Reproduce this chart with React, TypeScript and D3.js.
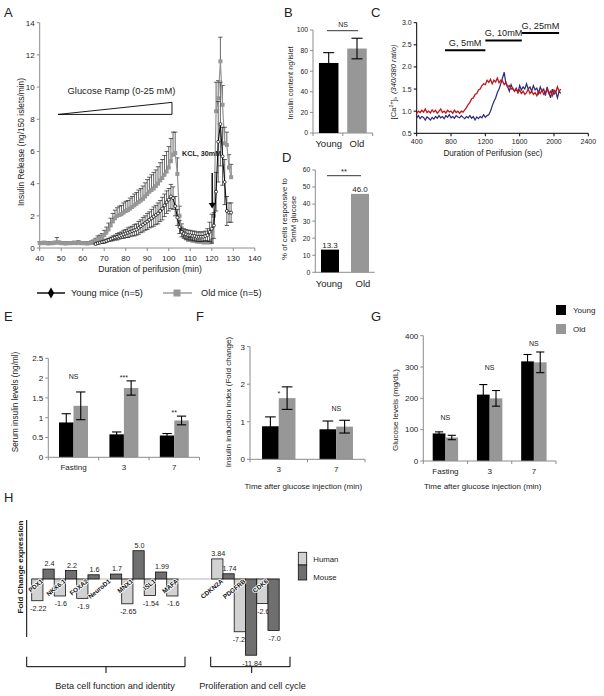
import React from 'react';
import * as d3 from 'd3';

const FONT = '"Liberation Sans", Arial, Helvetica, sans-serif';
const AXIS = '#8c8c8c';
const TXT = '#222';
const OLD = '#979797';
const YOUNG = '#000';
const ERR = '#222';

// ---------- Panel A : perifusion ----------
const aXTicks = [40, 50, 60, 70, 80, 90, 100, 110, 120, 130, 140];
const aYTicks = [0, 2, 4, 6, 8, 10, 12, 14];
const aOldStart = 40;
const aOldValues = [
  0.3, 0.3, 0.32, 0.3, 0.28, 0.3, 0.3, 0.32, 0.35, 0.33, 0.3, 0.3, 0.28, 0.3, 0.3, 0.3, 0.32, 0.3, 0.33, 0.3, 0.3, 0.3, 0.28, 0.3, 0.32, 0.35,
  0.45, 0.55, 0.6, 0.65, 0.8, 0.95, 1.15, 1.4, 1.65, 1.85, 2.0, 2.05, 2.1, 2.2, 2.3, 2.35, 2.45, 2.55, 2.65, 2.75,
  2.85, 2.95, 3.05, 3.2, 3.35, 3.5, 3.6, 3.7, 3.85, 4.0, 4.2, 4.35, 4.55, 4.75, 5.0, 5.4, 5.8, 5.9,
  4.6, 2.0, 1.1, 0.75, 0.6, 0.5, 0.5, 0.45, 0.45, 0.4, 0.4, 0.38, 0.35, 0.35, 0.35, 0.35, 0.4, 2.0, 8.5, 9.3, 11.6, 8.9, 6.5, 6.4, 5.0, 4.4,
];
const aOldErr = [
  0.1, 0.08, 0.1, 0.08, 0.1, 0.1, 0.1, 0.1, 0.3, 0.1, 0.08, 0.1, 0.1, 0.08, 0.1, 0.1, 0.1, 0.1, 0.12, 0.1, 0.1, 0.1, 0.1, 0.1, 0.12, 0.15,
  0.15, 0.2, 0.2, 0.25, 0.3, 0.35, 0.4, 0.45, 0.5, 0.5, 0.5, 0.55, 0.55, 0.6, 0.6, 0.6, 0.65, 0.65, 0.7, 0.7,
  0.75, 0.75, 0.8, 0.85, 0.9, 0.9, 0.95, 1.0, 1.0, 1.05, 1.1, 1.15, 1.2, 1.25, 1.3, 1.4, 1.4, 1.3,
  1.0, 0.6, 0.4, 0.3, 0.2, 0.15, 0.15, 0.1, 0.1, 0.1, 0.1, 0.1, 0.1, 0.1, 0.1, 0.1, 0.15, 0.8, 1.8, 1.1, 1.5, 1.2, 1.0, 0.8, 0.8, 0.8,
];
const aYoungStart = 66;
const aYoungValues = [
  0.25, 0.3, 0.33, 0.37, 0.4, 0.45, 0.5, 0.55, 0.6, 0.65, 0.7, 0.75, 0.8, 0.85, 0.9, 0.95, 1.0, 1.05, 1.1, 1.15,
  1.25, 1.35, 1.45, 1.55, 1.65, 1.75, 1.85, 1.95, 2.05, 2.15, 2.3, 2.45, 2.65, 2.85, 3.0, 3.2, 3.1, 2.6,
  1.9, 1.3, 1.0, 0.9, 0.85, 0.8, 0.8, 0.75, 0.75, 0.7, 0.7, 0.7, 0.7, 0.75, 0.8, 1.0, 1.2, 1.4, 3.5, 6.6, 7.7, 5.7, 4.1, 2.3, 2.2, 2.2,
];
const aYoungErr = [
  0.05, 0.05, 0.05, 0.08, 0.1, 0.1, 0.1, 0.12, 0.15, 0.15, 0.2, 0.2, 0.2, 0.25, 0.25, 0.3, 0.3, 0.3, 0.35, 0.35,
  0.4, 0.4, 0.45, 0.45, 0.5, 0.5, 0.55, 0.6, 0.6, 0.65, 0.65, 0.7, 0.7, 0.7, 0.7, 0.75, 0.7, 0.6,
  0.5, 0.4, 0.3, 0.3, 0.3, 0.3, 0.3, 0.3, 0.3, 0.3, 0.3, 0.3, 0.3, 0.3, 0.4, 0.6, 0.9, 0.8, 1.2, 2.5, 2.6, 1.8, 1.4, 0.9, 0.6, 0.6,
];

// ---------- Panel B ----------
const bCats = ['Young', 'Old'];
const bValues = [68, 82];
const bErr = [10, 10];
const bYTicks = [0, 20, 40, 60, 80, 100];

// ---------- Panel C ----------
const cStart = 400;
const cStep = 20;
const cRed = [
  0.95, 1.0, 0.97, 1.02, 0.98, 1.05, 0.97, 1.0, 0.96, 1.03,
  0.98, 1.02, 0.95, 1.0, 1.05, 0.97, 1.0, 0.96, 1.02, 0.98,
  1.0, 0.95, 1.02, 0.97, 1.0, 0.95, 1.0, 0.98, 1.03, 1.08,
  1.15, 1.2, 1.28, 1.3, 1.38, 1.4, 1.48, 1.5, 1.58, 1.62,
  1.6, 1.7, 1.65, 1.72, 1.62, 1.7, 1.66, 1.75, 1.64, 1.7,
  1.68, 1.6, 1.65, 1.55, 1.58, 1.5, 1.52, 1.45, 1.5, 1.42,
  1.48, 1.4, 1.45, 1.38, 1.42, 1.5, 1.4, 1.45, 1.38, 1.42,
  1.35, 1.45, 1.4, 1.48, 1.38, 1.42, 1.5, 1.4, 1.45, 1.35,
  1.48, 1.42, 1.55, 1.45, 1.5,
];
const cBlue = [
  0.85, 0.9, 0.83, 0.88, 0.86, 0.8, 0.87, 0.84, 0.8, 0.86,
  0.82, 0.88, 0.84, 0.9, 0.85, 0.88, 0.83, 0.9, 0.86, 0.92,
  0.85, 0.88, 0.84, 0.9, 0.87, 0.85, 0.9, 0.86, 0.83, 0.88,
  0.85, 0.9, 0.84, 0.88, 0.8, 0.87, 0.83, 0.88, 0.85, 0.92,
  0.86, 0.9, 0.92, 1.0, 1.12, 1.22, 1.3, 1.42, 1.5, 1.62,
  1.75, 1.88, 1.62, 1.55, 1.45, 1.6, 1.5, 1.45, 1.52, 1.42,
  1.58, 1.48, 1.55, 1.5, 1.62, 1.5, 1.55, 1.45, 1.58, 1.48,
  1.52, 1.4, 1.55, 1.45, 1.5, 1.35, 1.55, 1.42, 1.3, 1.5,
  1.38, 1.45, 1.3, 1.45, 1.4,
];
const cXTicks = [400, 800, 1200, 1600, 2000, 2400];
const cYTicks = [0.5, 1.0, 1.5, 2.0, 2.5, 3.0];
const cPhases = [
  { label: 'G, 5mM', from: 730, to: 1200, level: 2.38 },
  { label: 'G, 10mM', from: 1200, to: 1625, level: 2.6 },
  { label: 'G, 25mM', from: 1625, to: 2060, level: 2.77 },
];

// ---------- Panel D ----------
const dCats = ['Young', 'Old'];
const dValues = [13.3, 46.0];
const dYTicks = [0, 10, 20, 30, 40, 50, 60];

// ---------- Panel E ----------
const eGroups = ['Fasting', '3', '7'];
const eYoung = [0.88, 0.58, 0.55];
const eYoungErr = [0.22, 0.06, 0.05];
const eOld = [1.3, 1.75, 0.93];
const eOldErr = [0.35, 0.18, 0.11];
const eSig = ['NS', '***', '**'];
const eSigAt = [1.98, 1.95, 1.06];
const eYTicks = [0, 0.5, 1, 1.5, 2, 2.5];

// ---------- Panel F ----------
const fGroups = ['3', '7'];
const fYoung = [0.88, 0.8];
const fYoungErr = [0.25, 0.22];
const fOld = [1.63, 0.87];
const fOldErr = [0.3, 0.17];
const fSig = ['*', 'NS'];
const fSigAt = [1.69, 1.29];
const fYTicks = [0, 1, 2, 3];

// ---------- Panel G ----------
const gGroups = ['Fasting', '3', '7'];
const gYoung = [88, 212, 318];
const gYoungErr = [5, 32, 22];
const gOld = [75, 200, 315];
const gOldErr = [7, 25, 33];
const gSig = ['NS', 'NS', 'NS'];
const gSigAt = [132, 289, 367];
const gYTicks = [0, 100, 200, 300, 400];

// ---------- Panel H ----------
const hGenes = ['PDX1', 'NKX6.1', 'FOXA2', 'NeuroD1', 'MNX1', 'ISL1', 'MAFA', 'gap', 'CDKN2A', 'PDGFRB', 'CDK6'];
const hHuman: (number | null)[] = [-2.22, -1.6, -1.9, null, -2.65, -1.54, -1.6, null, 3.84, -7.25, -2.6];
const hMouse: (number | null)[] = [2.4, 2.2, 1.6, 1.7, 5.0, 1.99, null, null, 1.74, -11.84, -7.0];

const fmtH = (v: number) => (Number.isInteger(v) ? v.toFixed(1) : String(v));

function YAxis({ scale, x, ticks, fmt, size = 7, color = AXIS }: any) {
  const [r0, r1] = scale.range();
  return (
    <g>
      <line x1={x} x2={x} y1={r0} y2={r1} stroke={color} strokeWidth={1} />
      {ticks.map((t: number) => (
        <g key={t}>
          <line x1={x - 3} x2={x} y1={scale(t)} y2={scale(t)} stroke={color} />
          <text x={x - 5} y={scale(t)} dy="0.35em" textAnchor="end" fontSize={size} fill={TXT}>
            {fmt ? fmt(t) : t}
          </text>
        </g>
      ))}
    </g>
  );
}

function PanelA() {
  const x = d3.scaleLinear().domain([40, 140]).range([39.7, 254.8]);
  const y = d3.scaleLinear().domain([0, 14]).range([248, 22.7]);
  const old = aOldValues.map((v, i) => ({ t: aOldStart + i, v, e: aOldErr[i] }));
  const young = aYoungValues.map((v, i) => ({ t: aYoungStart + i, v, e: aYoungErr[i] }));
  const line = d3.line<{ t: number; v: number }>().x((d) => x(d.t)).y((d) => y(d.v));
  const diamond = d3.symbol(d3.symbolDiamond, 34)() as string;
  return (
    <g>
      <text x={4} y={17} fontSize={13} fill={TXT}>A</text>
      <YAxis scale={y} x={x(40)} ticks={aYTicks} size={8} />
      <line x1={x(40)} x2={x(140)} y1={y(0)} y2={y(0)} stroke={AXIS} />
      {aXTicks.map((t) => (
        <g key={t}>
          <line x1={x(t)} x2={x(t)} y1={y(0)} y2={y(0) + 3} stroke={AXIS} />
          <text x={x(t)} y={y(0) + 13} textAnchor="middle" fontSize={8} fill={TXT}>{t}</text>
        </g>
      ))}
      <text x={150} y={272} textAnchor="middle" fontSize={8.6} fill={TXT}>Duration of perifusion (min)</text>
      <text transform="translate(21,142) rotate(-90)" textAnchor="middle" dominantBaseline="central" fontSize={8.4} fill={TXT}>
        Insulin Release (ng/150 islets/min)
      </text>
      <polygon
        points={`${x(48.5)},${y(8.3)} ${x(101.5)},${y(9.05)} ${x(101.5)},${y(8.3)}`}
        fill="none" stroke="#000" strokeWidth={0.9}
      />
      <text x={x(78)} y={y(9.55)} textAnchor="middle" fontSize={9.4} fill={TXT}>Glucose Ramp (0-25 mM)</text>
      <g stroke={ERR} strokeWidth={0.7}>
        {old.map((d) => (
          <g key={d.t}>
            <line x1={x(d.t)} x2={x(d.t)} y1={y(d.v)} y2={y(d.v + d.e)} />
            <line x1={x(d.t) - 2.2} x2={x(d.t) + 2.2} y1={y(d.v + d.e)} y2={y(d.v + d.e)} />
          </g>
        ))}
      </g>
      <path d={line(old) as string} fill="none" stroke={OLD} strokeWidth={1.2} />
      {old.map((d) => (
        <rect key={d.t} x={x(d.t) - 2} y={y(d.v) - 2} width={4} height={4} fill={OLD} />
      ))}
      <g stroke={ERR} strokeWidth={0.7}>
        {young.map((d) => (
          <g key={d.t}>
            <line x1={x(d.t)} x2={x(d.t)} y1={y(Math.max(0, d.v - d.e))} y2={y(d.v + d.e)} />
            <line x1={x(d.t) - 2.2} x2={x(d.t) + 2.2} y1={y(d.v + d.e)} y2={y(d.v + d.e)} />
            <line x1={x(d.t) - 2.2} x2={x(d.t) + 2.2} y1={y(Math.max(0, d.v - d.e))} y2={y(Math.max(0, d.v - d.e))} />
          </g>
        ))}
      </g>
      <path d={line(young) as string} fill="none" stroke={YOUNG} strokeWidth={1} />
      {young.map((d) => (
        <circle key={d.t} cx={x(d.t)} cy={y(d.v)} r={1.5} fill="#fff" stroke="#000" strokeWidth={0.7} />
      ))}
      <text x={x(106.2)} y={y(5.7)} fontSize={7.2} fontWeight="bold" fill={TXT}>KCL, 30mM</text>
      <line x1={x(120.2)} x2={x(120.2)} y1={y(4.66)} y2={y(2.75)} stroke="#000" strokeWidth={1.4} />
      <path d={`M${x(120.2) - 3.5},${y(2.8)} L${x(120.2) + 3.5},${y(2.8)} L${x(120.2)},${y(2.45)} Z`} fill="#000" />
      <line x1={37} x2={65} y1={293} y2={293} stroke="#000" strokeWidth={1.4} />
      <path d={diamond} transform="translate(51,293)" fill="#000" />
      <text x={71} y={296.3} fontSize={9.2} fill={TXT}>Young mice (n=5)</text>
      <line x1={163} x2={192} y1={293} y2={293} stroke={OLD} strokeWidth={1.4} />
      <rect x={173.5} y={289.5} width={7} height={7} fill={OLD} />
      <text x={201} y={296.3} fontSize={9.2} fill={TXT}>Old mice (n=5)</text>
    </g>
  );
}

function PanelB() {
  const y = d3.scaleLinear().domain([0, 100]).range([133, 30]);
  const x = d3.scaleBand().domain(bCats).range([313, 372.7]).paddingInner(0.31).paddingOuter(0.21);
  const bw = x.bandwidth();
  return (
    <g>
      <text x={284} y={17} fontSize={13} fill={TXT}>B</text>
      <YAxis scale={y} x={313} ticks={bYTicks} size={6.8} />
      <line x1={313} x2={372.7} y1={133} y2={133} stroke={AXIS} />
      {[313, 342.8, 372.7].map((t) => (
        <line key={t} x1={t} x2={t} y1={133} y2={136} stroke={AXIS} />
      ))}
      <text transform="translate(290,83) rotate(-90)" textAnchor="middle" dominantBaseline="central" fontSize={7.4} fill={TXT}>
        Insulin content ng/islet
      </text>
      {bCats.map((c, i) => {
        const cx = (x(c) as number) + bw / 2;
        return (
          <g key={c}>
            <rect x={x(c)} y={y(bValues[i])} width={bw} height={y(0) - y(bValues[i])} fill={i === 0 ? YOUNG : OLD} />
            <line x1={cx} x2={cx} y1={y(bValues[i] - bErr[i])} y2={y(bValues[i] + bErr[i])} stroke="#000" strokeWidth={1.1} />
            <line x1={cx - 5.5} x2={cx + 5.5} y1={y(bValues[i] + bErr[i])} y2={y(bValues[i] + bErr[i])} stroke="#000" strokeWidth={1.1} />
            <line x1={cx - 5.5} x2={cx + 5.5} y1={y(bValues[i] - bErr[i])} y2={y(bValues[i] - bErr[i])} stroke="#000" strokeWidth={1.1} />
            <text x={cx} y={147} textAnchor="middle" fontSize={9.5} fill={TXT}>{c}</text>
          </g>
        );
      })}
      <line x1={327} x2={358} y1={30.7} y2={30.7} stroke="#000" strokeWidth={0.8} />
      <text x={343} y={27} textAnchor="middle" fontSize={7} fill={TXT}>NS</text>
    </g>
  );
}

function PanelC() {
  const x = d3.scaleLinear().domain([400, 2400]).range([416.7, 588.3]);
  const y = d3.scaleLinear().domain([0.5, 3.0]).range([133.3, 22.7]);
  const line = d3.line<number>().x((_, i) => x(cStart + i * cStep)).y((d) => y(d));
  return (
    <g>
      <text x={371} y={17} fontSize={13} fill={TXT}>C</text>
      <YAxis scale={y} x={416.7} ticks={cYTicks} size={7} color="#000" fmt={(t: number) => t.toFixed(1)} />
      <line x1={416.7} x2={588.3} y1={133.3} y2={133.3} stroke="#000" />
      {cXTicks.map((t) => (
        <g key={t}>
          <line x1={x(t)} x2={x(t)} y1={133.3} y2={136.3} stroke="#000" />
          <text x={x(t)} y={143.5} textAnchor="middle" fontSize={7} fill={TXT}>{t}</text>
        </g>
      ))}
      <text x={493} y={156} textAnchor="middle" fontSize={8.2} fill={TXT}>Duration of Perifusion (sec)</text>
      <text transform="translate(393,82) rotate(-90)" textAnchor="middle" dominantBaseline="central" fontSize={7.6} fill={TXT}>
        [Ca<tspan dy={-2.5} fontSize={5.3}>2+</tspan>
        <tspan dy={2.5}>]</tspan>
        <tspan dy={1.8} fontSize={5.3}>i</tspan>
        <tspan dy={-1.8} fontStyle="italic">, (340/380 ratio)</tspan>
      </text>
      <path d={line(cBlue) as string} fill="none" stroke="#26287a" strokeWidth={1.2} />
      <path d={line(cRed) as string} fill="none" stroke="#c0161b" strokeWidth={1.3} />
      {cPhases.map((p) => (
        <g key={p.label}>
          <line x1={x(p.from)} x2={x(p.to)} y1={y(p.level)} y2={y(p.level)} stroke="#000" strokeWidth={2} />
          <text x={(x(p.from) + x(p.to)) / 2} y={y(p.level) - 4} textAnchor="middle" fontSize={9.2} fill={TXT}>{p.label}</text>
        </g>
      ))}
    </g>
  );
}

function PanelD() {
  const y = d3.scaleLinear().domain([0, 60]).range([272.3, 170]);
  const x = d3.scaleBand().domain(dCats).range([315.3, 374.7]).paddingInner(0.4).paddingOuter(0.19);
  const bw = x.bandwidth();
  return (
    <g>
      <text x={282} y={162} fontSize={13} fill={TXT}>D</text>
      <YAxis scale={y} x={315.3} ticks={dYTicks} size={6.8} />
      <line x1={315.3} x2={374.7} y1={272.3} y2={272.3} stroke={AXIS} />
      <text transform="translate(288,219) rotate(-90)" textAnchor="middle" fontSize={7.8} fill={TXT}>
        <tspan x={0} dy={-1.5}>% of cells responsive to</tspan>
        <tspan x={0} dy={9}>5mM glucose</tspan>
      </text>
      {dCats.map((c, i) => {
        const cx = (x(c) as number) + bw / 2;
        return (
          <g key={c}>
            <rect x={x(c)} y={y(dValues[i])} width={bw} height={y(0) - y(dValues[i])} fill={i === 0 ? YOUNG : OLD} />
            <text x={cx} y={y(dValues[i]) - 2} textAnchor="middle" fontSize={8} fill={TXT}>{dValues[i].toFixed(1)}</text>
            <text x={cx + (i === 0 ? -1 : 3)} y={286.5} textAnchor="middle" fontSize={9.5} fill={TXT}>{c}</text>
          </g>
        );
      })}
      <line x1={327} x2={361} y1={175.7} y2={175.7} stroke="#000" strokeWidth={0.8} />
      <text x={344} y={174} textAnchor="middle" fontSize={7.5} fill={TXT}>**</text>
    </g>
  );
}

function Grouped({ groups, young, youngErr, old, oldErr, sig, sigAt, x0r, y, outer }: any) {
  const x0 = d3.scaleBand().domain(groups).range(x0r).padding(0);
  const x1 = d3.scaleBand().domain(['Young', 'Old']).range([0, x0.bandwidth()]).paddingInner(0).paddingOuter(outer);
  const bw = x1.bandwidth();
  const bars: any[] = [];
  groups.forEach((g: string, i: number) => {
    bars.push({ g, k: 'Young', v: young[i], e: youngErr[i], fill: YOUNG });
    bars.push({ g, k: 'Old', v: old[i], e: oldErr[i], fill: OLD });
  });
  const cap = bw * 0.32;
  return (
    <g>
      {bars.map((b) => {
        const bx = (x0(b.g) as number) + (x1(b.k) as number);
        const cx = bx + bw / 2;
        return (
          <g key={b.g + b.k}>
            <rect x={bx} y={y(b.v)} width={bw} height={y(0) - y(b.v)} fill={b.fill} />
            <g stroke="#000" strokeWidth={1.1}>
              <line x1={cx} x2={cx} y1={y(b.v - b.e)} y2={y(b.v + b.e)} />
              <line x1={cx - cap} x2={cx + cap} y1={y(b.v + b.e)} y2={y(b.v + b.e)} />
              <line x1={cx - cap} x2={cx + cap} y1={y(b.v - b.e)} y2={y(b.v - b.e)} />
            </g>
          </g>
        );
      })}
      {groups.map((g: string, i: number) => {
        const cx = (x0(g) as number) + x0.bandwidth() / 2;
        return (
          <g key={g}>
            <text x={cx} y={y(sigAt[i])} textAnchor="middle" fontSize={7} fill={TXT}>{sig[i]}</text>
            <text x={cx} y={y(0) + 13} textAnchor="middle" fontSize={8} fill={TXT}>{g}</text>
          </g>
        );
      })}
      <line x1={x0r[0]} x2={x0r[1]} y1={y(0)} y2={y(0)} stroke={AXIS} />
      {[...groups.map((g: string) => x0(g) as number), x0r[1]].map((t: number) => (
        <line key={t} x1={t} x2={t} y1={y(0)} y2={y(0) + 3} stroke={AXIS} />
      ))}
    </g>
  );
}

function PanelE() {
  const y = d3.scaleLinear().domain([0, 2.5]).range([457.3, 358.3]);
  return (
    <g>
      <text x={4} y={321} fontSize={13} fill={TXT}>E</text>
      <YAxis scale={y} x={48.3} ticks={eYTicks} size={8} />
      <text transform="translate(15,402) rotate(-90)" textAnchor="middle" dominantBaseline="central" fontSize={8.2} fill={TXT}>
        Serum insulin levels (ng/ml)
      </text>
      <Grouped groups={eGroups} young={eYoung} youngErr={eYoungErr} old={eOld} oldErr={eOldErr}
        sig={eSig} sigAt={eSigAt} x0r={[48.3, 199.5]} y={y} outer={0.74} />
    </g>
  );
}

function PanelF() {
  const y = d3.scaleLinear().domain([0, 3]).range([459.3, 346.7]);
  return (
    <g>
      <text x={196} y={321} fontSize={13} fill={TXT}>F</text>
      <YAxis scale={y} x={250} ticks={fYTicks} size={8} />
      <text transform="translate(228,402) rotate(-90)" textAnchor="middle" dominantBaseline="central" fontSize={8} fill={TXT}>
        Insulin induction index (Fold change)
      </text>
      <Grouped groups={fGroups} young={fYoung} youngErr={fYoungErr} old={fOld} oldErr={fOldErr}
        sig={fSig} sigAt={fSigAt} x0r={[250, 365]} y={y} outer={0.72} />
      <text x={303.3} y={489} textAnchor="middle" fontSize={8} fill={TXT}>Time after glucose injection (min)</text>
    </g>
  );
}

function PanelG() {
  const y = d3.scaleLinear().domain([0, 400]).range([461, 335.7]);
  return (
    <g>
      <text x={371} y={321} fontSize={13} fill={TXT}>G</text>
      <YAxis scale={y} x={423.3} ticks={gYTicks} size={8} />
      <text transform="translate(395,410) rotate(-90)" textAnchor="middle" dominantBaseline="central" fontSize={8} fill={TXT}>
        Glucose levels (mg/dL)
      </text>
      <Grouped groups={gGroups} young={gYoung} youngErr={gYoungErr} old={gOld} oldErr={gOldErr}
        sig={gSig} sigAt={gSigAt} x0r={[423.3, 556]} y={y} outer={0.74} />
      <text x={482.7} y={489} textAnchor="middle" fontSize={8} fill={TXT}>Time after glucose injection (min)</text>
      <rect x={556} y={305} width={10} height={10} fill={YOUNG} />
      <text x={573} y={313} fontSize={8} fill={TXT}>Young</text>
      <rect x={556} y={324} width={10} height={10} fill={OLD} />
      <text x={573} y={332} fontSize={8} fill={TXT}>Old</text>
    </g>
  );
}

function PanelH() {
  const zero = 579;
  const x = d3.scaleBand().domain(hGenes).range([31.7, 279.2]).padding(0);
  const sub = d3.scaleBand().domain(['Human', 'Mouse']).range([0, x.bandwidth()]).padding(0);
  const bw = sub.bandwidth();
  const pos = d3.scaleLinear().domain([1, 5]).range([0, 28.3]);
  const neg = d3.scalePow().exponent(0.75).domain([0, 12]).range([0, 77]);
  const top = (v: number) => (v >= 0 ? zero - pos(v) : zero);
  const h = (v: number) => (v >= 0 ? pos(v) : neg(-v));
  const LIGHT = '#d2d2d2';
  const DARK = '#6f6f6f';
  const renderBars = (vals: (number | null)[], key: 'Human' | 'Mouse', fill: string) =>
    hGenes.map((g, i) => {
      const v = vals[i];
      if (v == null) return null;
      return (
        <rect key={g + key} x={(x(g) as number) + (sub(key) as number)} y={top(v)} width={bw} height={h(v)}
          fill={fill} stroke="#111" strokeWidth={0.8} />
      );
    });
  const renderLabels = (vals: (number | null)[], key: 'Human' | 'Mouse') =>
    hGenes.map((g, i) => {
      const v = vals[i];
      if (v == null) return null;
      const cx = (x(g) as number) + (sub(key) as number) + bw / 2 + 1;
      const yy = v >= 0 ? zero - pos(v) - 3 : zero + neg(-v) + 10.5;
      return (
        <text key={g + key + 'l'} x={cx} y={yy} textAnchor="middle" fontSize={7.2} fill={TXT}>{fmtH(v)}</text>
      );
    });
  return (
    <g>
      <text x={4} y={502} fontSize={13} fill={TXT}>H</text>
      <line x1={26.7} x2={26.7} y1={520} y2={637} stroke="#000" strokeWidth={1} />
      <text transform="translate(20,567) rotate(-90)" textAnchor="middle" dominantBaseline="central" fontSize={8} fontWeight="bold" fill={TXT}>
        Fold Change expression
      </text>
      <line x1={31.7} x2={280} y1={zero} y2={zero} stroke="#b5b5b5" strokeWidth={1} />
      {renderBars(hHuman, 'Human', LIGHT)}
      {renderLabels(hHuman, 'Human')}
      {renderLabels(hMouse, 'Mouse')}
      {renderBars(hMouse, 'Mouse', DARK)}
      {hGenes.map((g) =>
        g === 'gap' ? null : (
          <g key={g + 'g'} transform={`translate(${(x(g) as number) + bw + 0.5},${zero + 3}) rotate(-40)`}>
            <text textAnchor="end" fontSize={6.4} fontWeight="bold" fill="none" stroke="#fff" strokeWidth={1.6}
              strokeLinejoin="round">{g}</text>
            <text textAnchor="end" fontSize={6.4} fontWeight="bold" fill="#111">{g}</text>
          </g>
        ),
      )}
      <rect x={298.3} y={552.3} width={8.4} height={12.7} fill={LIGHT} stroke="#111" strokeWidth={0.8} />
      <rect x={298.3} y={565} width={8.4} height={15} fill={DARK} stroke="#111" strokeWidth={0.8} />
      <text x={313.3} y={561.8} fontSize={7.8} fill={TXT}>Human</text>
      <text x={313.3} y={579.5} fontSize={7.8} fill={TXT}>Mouse</text>
      <path d="M26.7,656.7 V666.7 H185 V656.7 M106,666.7 V673" fill="none" stroke="#000" strokeWidth={1} />
      <path d="M210.7,656.7 V666.7 H290 V656.7 M251.7,666.7 V673" fill="none" stroke="#000" strokeWidth={1} />
      <text x={115} y={689} textAnchor="middle" fontSize={9.2} fill={TXT}>Beta cell function and identity</text>
      <text x={252.5} y={689} textAnchor="middle" fontSize={9.2} fill={TXT}>Proliferation and cell cycle</text>
    </g>
  );
}

export default function App() {
  return (
    <svg width={604} height={696} style={{ position: 'absolute', left: 0, top: 0 }} fontFamily={FONT}>
      <rect width={604} height={696} fill="#fff" />
      <PanelA />
      <PanelB />
      <PanelC />
      <PanelD />
      <PanelE />
      <PanelF />
      <PanelG />
      <PanelH />
    </svg>
  );
}
